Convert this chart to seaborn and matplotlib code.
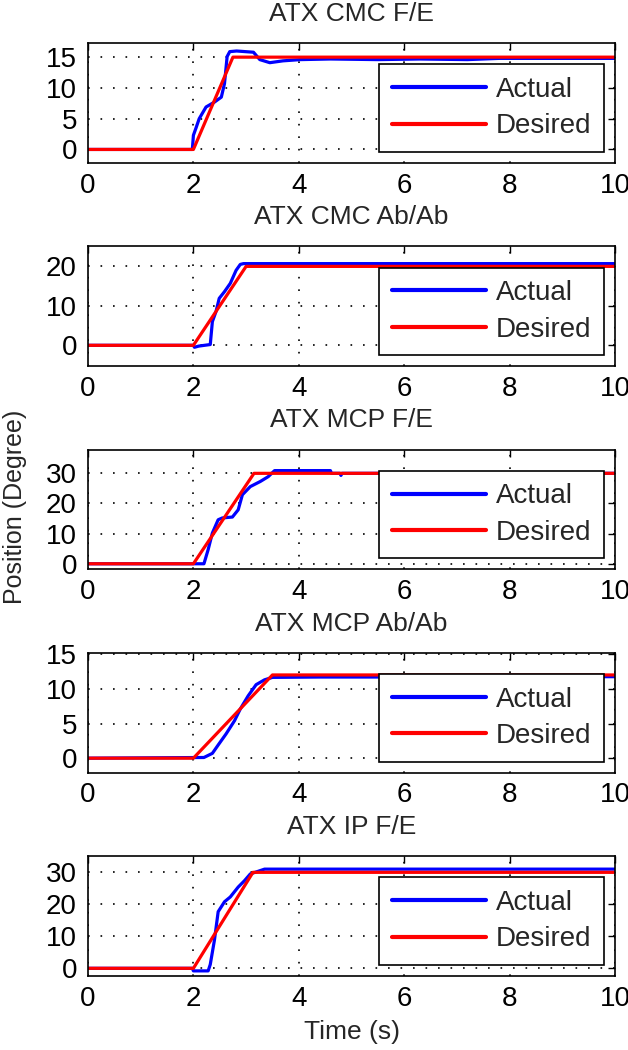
import numpy as np
import pandas as pd
import matplotlib
matplotlib.use('Agg')
import matplotlib.pyplot as plt
import seaborn as sns

# panel titles, y limits and y ticks
titles = ['ATX CMC F/E', 'ATX CMC Ab/Ab', 'ATX MCP F/E', 'ATX MCP Ab/Ab', 'ATX IP F/E']
ylims = [(-2.2, 17.3), (-5.3, 25.1), (-1.9, 37.9), (-2.1, 15.2), (-2.4, 35.1)]
yticks = [[0, 5, 10, 15], [0, 10, 20], [0, 10, 20, 30], [0, 5, 10, 15], [0, 10, 20, 30]]
xticks = [0, 2, 4, 6, 8, 10]

# desired trajectories
cmc_fe_des_t = [0, 2.0, 2.75, 10]
cmc_fe_des_y = [0, 0, 15, 15]
cmc_ab_des_t = [0, 2.0, 3.0, 10]
cmc_ab_des_y = [0, 0, 20, 20]
mcp_fe_des_t = [0, 2.0, 3.15, 10]
mcp_fe_des_y = [0, 0, 30, 30]
mcp_ab_des_t = [0, 2.0, 3.5, 10]
mcp_ab_des_y = [0, 0, 12, 12]
ip_fe_des_t = [0, 2.0, 3.13, 10]
ip_fe_des_y = [0, 0, 30, 30]

# actual (measured) trajectories
cmc_fe_act_t = [0, 1.98, 2.0, 2.05, 2.11, 2.24, 2.40, 2.53, 2.59, 2.64, 2.69, 2.82, 3.14, 3.26,
                3.45, 3.7, 4.03, 4.6, 5.5, 6.3, 7.2, 7.8, 10]
cmc_fe_act_y = [0, 0, 2.3, 3.5, 5.0, 6.9, 7.7, 8.5, 10.7, 15.1, 15.9, 16.0, 15.8, 14.6,
                14.1, 14.4, 14.6, 14.7, 14.6, 14.7, 14.6, 14.8, 14.8]
cmc_ab_act_t = [0, 2.0, 2.02, 2.1, 2.32, 2.36, 2.43, 2.49, 2.59, 2.7, 2.81, 2.89, 2.95, 10]
cmc_ab_act_y = [0, 0, -0.5, -0.2, 0.2, 6.0, 8.6, 11.9, 13.6, 15.7, 19.0, 20.5, 20.7, 20.7]
mcp_fe_act_t = [0, 2.2, 2.28, 2.36, 2.47, 2.55, 2.74, 2.85, 2.93, 3.08, 3.27, 3.42, 3.54,
                4.6, 4.62, 4.78, 4.8, 4.82, 10]
mcp_fe_act_y = [0, 0, 4.7, 10.2, 14.6, 15.2, 15.5, 17.9, 22.9, 25.6, 27.3, 28.9, 30.9,
                30.9, 30.0, 30.0, 29.3, 30.0, 30.0]
mcp_ab_act_t = [0, 2.2, 2.36, 2.47, 2.62, 2.78, 2.89, 3.04, 3.19, 3.35, 3.5, 4.4, 6.1, 10]
mcp_ab_act_y = [0, 0.1, 0.7, 1.9, 3.5, 5.4, 7.1, 9.0, 10.6, 11.3, 11.65, 11.7, 11.7, 11.75]
ip_fe_act_t = [0, 1.98, 2.0, 2.28, 2.32, 2.40, 2.47, 2.59, 2.7, 2.85, 2.97, 3.08, 3.35, 10]
ip_fe_act_y = [0, 0, -0.8, -0.8, 1.2, 8.9, 17.7, 20.8, 22.3, 25.4, 27.4, 29.5, 31.0, 31.0]

actual = [(cmc_fe_act_t, cmc_fe_act_y), (cmc_ab_act_t, cmc_ab_act_y), (mcp_fe_act_t, mcp_fe_act_y),
          (mcp_ab_act_t, mcp_ab_act_y), (ip_fe_act_t, ip_fe_act_y)]
desired = [(cmc_fe_des_t, cmc_fe_des_y), (cmc_ab_des_t, cmc_ab_des_y), (mcp_fe_des_t, mcp_fe_des_y),
           (mcp_ab_des_t, mcp_ab_des_y), (ip_fe_des_t, ip_fe_des_y)]

sns.set_style('white')
plt.rcParams['font.family'] = ['Liberation Sans', 'DejaVu Sans']

fig, axes = plt.subplots(5, 1, figsize=(6.28, 10.5), dpi=100)
fig.subplots_adjust(left=88 / 628, right=615 / 628, top=1 - 43 / 1050, bottom=1 - 976 / 1050, hspace=0.694)

for i, ax in enumerate(axes):
    df_act = pd.DataFrame({'t': actual[i][0], 'pos': actual[i][1]})
    df_des = pd.DataFrame({'t': desired[i][0], 'pos': desired[i][1]})
    sns.lineplot(data=df_act, x='t', y='pos', ax=ax, color='blue', lw=2.3,
                 estimator=None, sort=False, label='Actual')
    sns.lineplot(data=df_des, x='t', y='pos', ax=ax, color='red', lw=2.3,
                 estimator=None, sort=False, label='Desired')

    ax.set_xlim(0, 10)
    ax.set_ylim(*ylims[i])
    ax.set_xticks(xticks)
    ax.set_yticks(yticks[i])
    ax.grid(True, color='black', linestyle=(0, (1, 6.5)), linewidth=1.2)
    ax.set_axisbelow(True)
    for sp in ax.spines.values():
        sp.set_visible(True)
        sp.set_color('black')
        sp.set_linewidth(1.2)
    ax.tick_params(direction='in', top=True, right=True, length=5, width=1,
                   labelsize=20, colors='black')
    ax.tick_params(axis='x', pad=7)
    ax.tick_params(axis='y', pad=8)
    ax.set_title(titles[i], fontsize=19, pad=16)
    ax.set_xlabel('')
    ax.set_ylabel('')

    leg = ax.legend(loc='lower right', fontsize=20, handlelength=3.4, handletextpad=0.35,
                    labelspacing=0.38, borderpad=0.45, borderaxespad=0.4,
                    fancybox=False, framealpha=1, edgecolor='black')
    leg.get_frame().set_linewidth(1.2)
    for h in leg.get_lines():
        h.set_linewidth(3)

axes[-1].set_xlabel('Time (s)', fontsize=19, labelpad=6)
fig.text(15 / 628, 1 - 507 / 1050, 'Position (Degree)', rotation=90, fontsize=18,
         ha='center', va='center')

fig.savefig('out.png', dpi=100)
